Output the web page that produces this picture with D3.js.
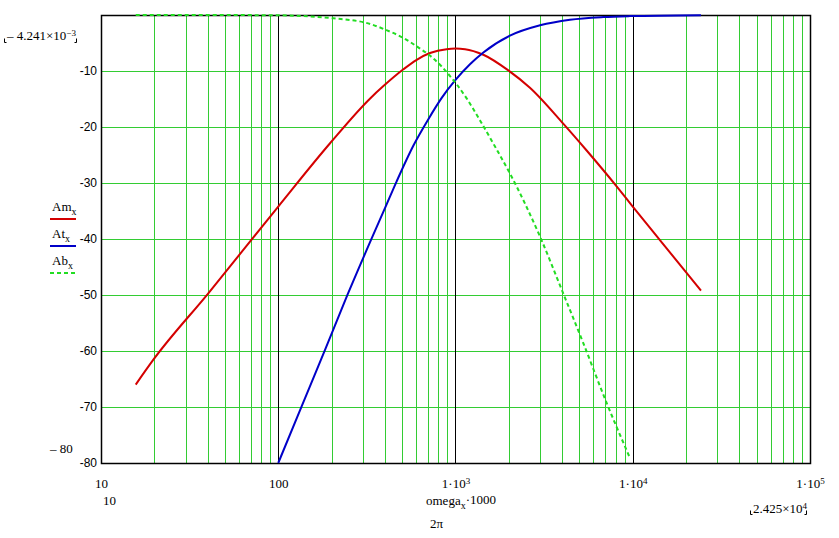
<!DOCTYPE html>
<html>
<head>
<meta charset="utf-8">
<script src="https://cdn.jsdelivr.net/npm/d3@7"></script>
<style>
	body { margin: 0; background: #fff; }
	svg text { font-family: "Liberation Serif", "Times New Roman", serif; font-size: 13px; fill: #000; }
	.yaxis text { font-family: "Liberation Sans", Arial, sans-serif; font-size: 12px; }
</style>
</head>
<body>
<svg id="chart" width="839" height="538"></svg>
<script>
'use strict';

//Data (frequency, dB)
var amFreq = [15.7, 19.7, 40.3, 100, 196, 330, 392, 508, 604, 718, 891, 1000, 1132, 1436, 1987, 2630, 4052, 5495, 8110, 10000, 14230, 24250];
var amVal  = [-66.0, -61.6, -49.7, -34.2, -22.9, -14.9, -12.7, -9.7, -8.0, -6.8, -6.1, -6.0, -6.1, -7.1, -9.9, -13.0, -19.4, -24.2, -30.6, -34.2, -40.2, -49.2];

var atFreq = [100, 135.5, 183.6, 245.6, 336.6, 400, 465.6, 579, 703, 836, 1000, 1207, 1436, 2028, 3000, 4424, 6825, 9640, 24250];
var atVal  = [-80, -69.9, -59.8, -50.0, -39.9, -34.5, -29.7, -23.3, -18.6, -14.8, -11.6, -8.8, -6.7, -3.7, -1.85, -0.85, -0.37, -0.2, -0.03];

var abFreq = [15.7, 50, 100, 205, 330, 400, 508, 604, 733, 836, 931, 1000, 1156, 1373, 1671, 2028, 3000, 4052, 5260, 7130, 9640];
var abVal  = [-0.001, -0.01, -0.06, -0.6, -1.6, -2.6, -4.1, -5.6, -7.5, -9.2, -10.9, -12.1, -14.9, -18.8, -23.5, -28.3, -39.6, -49.7, -58.6, -69.3, -79.1];

var xTicks = [10, 100, 1e3, 1e4, 1e5];
var yTicks = [-10, -20, -30, -40, -50, -60, -70, -80];
var xLimits = [10, 1e5];
var yLimits = [-80, -4.241e-3];

var series = [
	{name: 'Am', freq: amFreq, val: amVal, color: '#d40000', dash: null},
	{name: 'At', freq: atFreq, val: atVal, color: '#0000c8', dash: null},
	{name: 'Ab', freq: abFreq, val: abVal, color: '#22dd22', dash: '4,3'}
];

var svg = d3.select('#chart');

//Scales
var x = d3.scaleLog().domain(xLimits).range([101, 810]);
var y = d3.scaleLinear().domain(yLimits).range([463, 15]);

//Grid: minor decades in green, decade lines in black
var minor = [];
for (var e = 1; e < 5; e++)
	for (var k = 2; k <= 9; k++)
		minor.push(k * Math.pow(10, e));
var gridGreen = '#33cc33';
var grid = svg.append('g').attr('class', 'grid');
grid.selectAll('rect.vminor')
	.data(minor)
	.enter().append('rect')
		.attr('class', 'vminor')
		.attr('x', function(d){return Math.round(x(d));})
		.attr('y', y(yLimits[1]))
		.attr('width', 1)
		.attr('height', y(yLimits[0]) - y(yLimits[1]))
		.attr('fill', gridGreen);
grid.selectAll('rect.hgrid')
	.data(yTicks.slice(0, -1))
	.enter().append('rect')
		.attr('class', 'hgrid')
		.attr('x', x(xLimits[0]))
		.attr('y', function(d){return Math.round(y(d));})
		.attr('width', x(xLimits[1]) - x(xLimits[0]))
		.attr('height', 1)
		.attr('fill', gridGreen);
grid.selectAll('rect.vmajor')
	.data(xTicks.slice(1, -1))
	.enter().append('rect')
		.attr('class', 'vmajor')
		.attr('x', function(d){return Math.round(x(d));})
		.attr('y', y(yLimits[1]))
		.attr('width', 1)
		.attr('height', y(yLimits[0]) - y(yLimits[1]))
		.attr('fill', '#000');

//Plot border
svg.append('rect')
	.attr('x', x(xLimits[0]) + 0.5)
	.attr('y', y(yLimits[1]) + 0.5)
	.attr('width', x(xLimits[1]) - x(xLimits[0]))
	.attr('height', y(yLimits[0]) - y(yLimits[1]))
	.attr('fill', 'none')
	.attr('stroke', '#000')
	.attr('stroke-width', 1.5);

//Y axis labels
svg.append('g')
	.attr('class', 'yaxis')
	.attr('transform', 'translate(' + x(xLimits[0]) + ',0)')
	.call(d3.axisLeft(y).tickValues(yTicks).tickSize(0).tickPadding(4)
		.tickFormat(function(d){return '-' + Math.abs(d);}))
	.attr('font-size', null).attr('font-family', null)
	.call(function(g){g.select('.domain').remove();})
	.call(function(g){g.selectAll('.tick line').remove();});

//X axis labels (1·10^n style)
var xAxis = svg.append('g')
	.attr('transform', 'translate(0,' + (y(yLimits[0]) + 13) + ')')
	.call(d3.axisBottom(x).tickValues(xTicks).tickSize(0).tickFormat(''))
	.attr('font-size', null).attr('font-family', null)
	.call(function(g){g.select('.domain').remove();})
	.call(function(g){g.selectAll('.tick line').remove();});
xAxis.selectAll('.tick text').each(function(d) {
	var t = d3.select(this);
	var p = Math.round(Math.log10(d));
	if (p <= 2) {
		t.text(String(d));
	} else {
		t.text('1\u00b710');
		t.append('tspan').attr('dy', '-0.5em').style('font-size', '9px').text(String(p));
	}
});

//Curves
var line = d3.line()
	.x(function(d){return x(d[0]);})
	.y(function(d){return y(d[1]);})
	.curve(d3.curveMonotoneX);
svg.append('g').selectAll('path')
	.data(series)
	.enter().append('path')
		.attr('d', function(s){return line(d3.zip(s.freq, s.val));})
		.attr('fill', 'none')
		.attr('stroke', function(s){return s.color;})
		.attr('stroke-width', 2)
		.attr('stroke-dasharray', function(s){return s.dash;});

//Legend
var legend = svg.append('g').selectAll('g')
	.data(series)
	.enter().append('g')
		.attr('transform', function(s, i){return 'translate(50,' + (211 + i * 27) + ')';});
legend.append('text')
	.attr('x', 2)
	.text(function(s){return s.name;})
	.append('tspan').attr('dy', '0.35em').style('font-size', '10px').text('x');
legend.append('line')
	.attr('x1', 0).attr('x2', 26)
	.attr('y1', 8).attr('y2', 8)
	.attr('stroke', function(s){return s.color;})
	.attr('stroke-width', 2)
	.attr('stroke-dasharray', function(s){return s.dash;});

//Limit annotations
function corners(x0, x1, yb) {
	svg.append('path')
		.attr('d', 'M' + x0 + ',' + (yb - 4) + 'V' + yb + 'H' + (x0 + 2) +
			'M' + x1 + ',' + (yb - 4) + 'V' + yb + 'H' + (x1 - 2))
		.attr('fill', 'none').attr('stroke', '#000');
}
var yTop = svg.append('text').attr('x', 7).attr('y', 40).text('\u2013 4.241\u00d710');
yTop.append('tspan').attr('dy', '-0.5em').style('font-size', '9px').text('\u22123');
corners(4.5, 76.5, 42.5);

svg.append('text').attr('x', 50).attr('y', 453).text('\u2013 80');
svg.append('text').attr('x', 103).attr('y', 505).text('10');

var xRight = svg.append('text').attr('x', 753).attr('y', 513).text('2.425\u00d710');
xRight.append('tspan').attr('dy', '-0.5em').style('font-size', '9px').text('4');
corners(750.5, 806.5, 514.5);

//X expression
var xl = svg.append('text').attr('x', 426).attr('y', 505).text('omega');
xl.append('tspan').attr('dy', '0.35em').style('font-size', '10px').text('x');
xl.append('tspan').attr('dy', '-0.35em').text('\u00b71000');
svg.append('text').attr('x', 430).attr('y', 528).text('2\u03c0');
</script>
</body>
</html>
